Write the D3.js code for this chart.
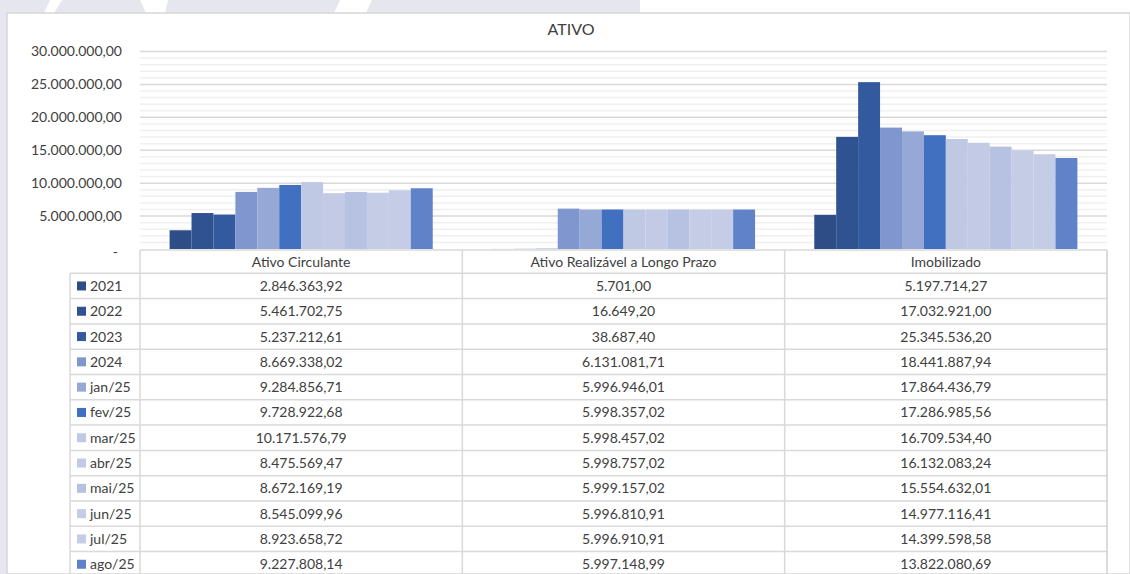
<!DOCTYPE html>
<html>
<head>
<meta charset="utf-8">
<script src="https://cdn.jsdelivr.net/npm/d3@7"></script>
<style>
  html, body { margin: 0; padding: 0; background: #fff; }
  svg { display: block; font-family: Lato, "Open Sans", sans-serif; }
</style>
</head>
<body>
<div id="chart"></div>
<script>
(function (d3) {
	'use strict';

	// DATA
	const categories = ["Ativo Circulante", "Ativo Realizável a Longo Prazo", "Imobilizado"];
	const periods = ["2021", "2022", "2023", "2024", "jan/25", "fev/25", "mar/25", "abr/25", "mai/25", "jun/25", "jul/25", "ago/25"];
	const ativoCirculante = [2846363.92, 5461702.75, 5237212.61, 8669338.02, 9284856.71, 9728922.68, 10171576.79, 8475569.47, 8672169.19, 8545099.96, 8923658.72, 9227808.14];
	const ativoRealizavel = [5701.00, 16649.20, 38687.40, 6131081.71, 5996946.01, 5998357.02, 5998457.02, 5998757.02, 5999157.02, 5996810.91, 5996910.91, 5997148.99];
	const imobilizado = [5197714.27, 17032921.00, 25345536.20, 18441887.94, 17864436.79, 17286985.56, 16709534.40, 16132083.24, 15554632.01, 14977116.41, 14399598.58, 13822080.69];
	const yMax = 30000000;

	const seriesColors = ["#2e4d87", "#2f5291", "#335a9f", "#7f96cf", "#95a8d6", "#4170c0", "#c0c9e4", "#c3cae5", "#b7c2e2", "#c5cce6", "#c5cce6", "#5f82c8"];

	const valuesByCategory = [ativoCirculante, ativoRealizavel, imobilizado];
	const data = [];
	categories.forEach((c, ci) => {
		periods.forEach((p, pi) => {
			data.push({ category: c, period: p, value: valuesByCategory[ci][pi] });
		});
	});

	const ptBR = d3.formatLocale({ decimal: ",", thousands: ".", grouping: [3], currency: ["R$", ""] });
	const fmt = ptBR.format(",.2f");

	const width = 1130, height = 574;
	const svg = d3.select("#chart").append("svg").attr("width", width).attr("height", height);

	// background with faint watermark
	svg.append("rect").attr("width", width).attr("height", height).attr("fill", "#e5e6ee");
	const wm = svg.append("g").attr("fill", "#ffffff");
	wm.append("polygon").attr("points", "640,0 1130,0 1130,13 640,13");
	wm.append("polygon").attr("points", "50,0 62,0 54,13 44,13");
	wm.append("polygon").attr("points", "140,0 168,0 165,13 146,13");
	wm.append("polygon").attr("points", "340,0 372,0 366,13 334,13");

	// chart box
	svg.append("rect").attr("x", 7).attr("y", 13).attr("width", width - 7).attr("height", height - 13)
		.attr("fill", "#fff").attr("stroke", "#d6d6d6").attr("stroke-width", 1.5);

	const plot = { left: 140, right: 1107, top: 51.5, bottom: 249 };

	svg.append("text").attr("x", 571).attr("y", 35).attr("text-anchor", "middle")
		.attr("font-size", 16).attr("fill", "#404040").text("ATIVO");

	const y = d3.scaleLinear().domain([0, yMax]).range([plot.bottom, plot.top]);
	const x0 = d3.scaleBand().domain(categories).range([plot.left, plot.right]).padding(0);
	const x1 = d3.scaleBand().domain(periods).range([0, x0.bandwidth()]).paddingInner(0).paddingOuter(1.35);
	const color = d3.scaleOrdinal().domain(periods).range(seriesColors);

	// gridlines
	const grid = svg.append("g");
	const minor = d3.range(1000000, yMax, 1000000).filter(v => v % 5000000 !== 0);
	grid.selectAll("line.minor").data(minor).enter().append("line")
		.attr("x1", plot.left).attr("x2", plot.right)
		.attr("y1", d => y(d)).attr("y2", d => y(d))
		.attr("stroke", "#f0f0f0").attr("stroke-width", 1.5);
	grid.selectAll("line.major").data(y.ticks(6).filter(v => v > 0)).enter().append("line")
		.attr("x1", plot.left).attr("x2", plot.right)
		.attr("y1", d => y(d)).attr("y2", d => y(d))
		.attr("stroke", "#d9d9d9").attr("stroke-width", 1.5);

	// Y axis
	const yAxis = d3.axisLeft(y).ticks(6).tickSize(0).tickPadding(0)
		.tickFormat(d => d === 0 ? "-" : fmt(d));
	const yAxisG = svg.append("g").attr("transform", `translate(${plot.left - 18},0)`).call(yAxis);
	yAxisG.select(".domain").remove();
	yAxisG.selectAll("text").attr("font-size", 14).attr("fill", "#404040")
		.attr("font-family", "Lato, 'Open Sans', sans-serif");
	yAxisG.selectAll(".tick").filter(d => d === 0).select("text").attr("x", -4).attr("dy", "0.5em");

	// bars
	svg.append("g").selectAll("rect").data(data).enter().append("rect")
		.attr("x", d => x0(d.category) + x1(d.period))
		.attr("width", x1.bandwidth())
		.attr("y", d => y(d.value))
		.attr("height", d => plot.bottom - y(d.value))
		.attr("fill", d => color(d.period));

	// data table
	const table = svg.append("g");
	const rowH = 25.3;
	const headTop = plot.bottom + 1;
	const rowsTop = 273.3;
	const legendLeft = 70;
	const lineColor = "#d9d9d9";

	// header cells
	table.selectAll("text.head").data(categories).enter().append("text")
		.attr("x", d => x0(d) + x0.bandwidth() / 2)
		.attr("y", headTop + 17)
		.attr("text-anchor", "middle").attr("font-size", 14).attr("fill", "#404040").text(d => d);

	// row lines
	const rowLines = d3.range(periods.length + 1).map(i => rowsTop + i * rowH);
	table.selectAll("line.row").data(rowLines).enter().append("line")
		.attr("x1", legendLeft).attr("x2", plot.right)
		.attr("y1", d => d).attr("y2", d => d)
		.attr("stroke", lineColor).attr("stroke-width", 1.5);
	table.append("line").attr("x1", plot.left).attr("x2", plot.right)
		.attr("y1", headTop).attr("y2", headTop).attr("stroke", lineColor).attr("stroke-width", 1.5);

	// column lines
	const colXs = [plot.left].concat(categories.map(c => x0(c) + x0.bandwidth()));
	table.selectAll("line.col").data(colXs).enter().append("line")
		.attr("x1", d => d).attr("x2", d => d)
		.attr("y1", headTop).attr("y2", height)
		.attr("stroke", (d, i) => i === colXs.length - 1 ? "#cfcfcf" : lineColor).attr("stroke-width", 1.5);
	table.append("line").attr("x1", legendLeft).attr("x2", legendLeft)
		.attr("y1", rowsTop).attr("y2", height).attr("stroke", lineColor).attr("stroke-width", 1.5);

	// legend keys + labels
	const rows = table.selectAll("g.row").data(periods).enter().append("g")
		.attr("transform", (d, i) => `translate(0,${rowsTop + i * rowH})`);
	rows.append("rect").attr("x", 77).attr("y", rowH / 2 - 4.5).attr("width", 9).attr("height", 9)
		.attr("fill", d => color(d));
	rows.append("text").attr("x", 90).attr("y", rowH / 2 + 5)
		.attr("font-size", 14).attr("fill", "#404040").text(d => d);
	rows.each(function (p, pi) {
		d3.select(this).selectAll("text.val").data(categories).enter().append("text")
			.attr("x", c => x0(c) + x0.bandwidth() / 2)
			.attr("y", rowH / 2 + 5)
			.attr("text-anchor", "middle").attr("font-size", 14).attr("fill", "#404040")
			.text((c, ci) => fmt(valuesByCategory[ci][pi]));
	});
}(d3));
</script>
</body>
</html>
